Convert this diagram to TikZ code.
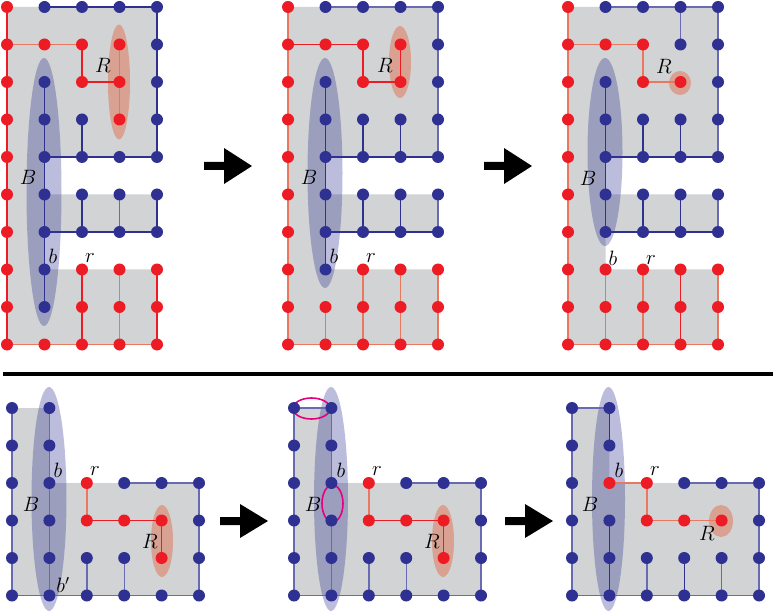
\documentclass[tikz,border=0pt]{standalone}
\definecolor{dred}{RGB}{237,28,36}
\definecolor{dblue}{RGB}{46,49,146}
\definecolor{salm}{RGB}{234,120,95}
\definecolor{lblue}{RGB}{105,107,178}
\definecolor{gfill}{RGB}{209,211,212}
\definecolor{mag}{RGB}{230,0,126}
\definecolor{rellc}{RGB}{223,113,80}
\tikzset{
 rdot/.style={circle,fill=dred,inner sep=0pt,minimum size=12pt},
 bdot/.style={circle,fill=dblue,inner sep=0pt,minimum size=12pt},
 rl/.style={draw=dred,line width=1.2pt},
 sl/.style={draw=salm,line width=1.4pt},
 bl/.style={draw=dblue,line width=1.2pt},
 lbl/.style={draw=lblue,line width=1.4pt},
 region/.style={fill=gfill},
 bell/.style={fill=dblue,fill opacity=0.32},
 rell/.style={fill=rellc,fill opacity=0.5},
 magell/.style={draw=mag,line width=1.6pt},
 lab/.style={font=\fontsize{22}{26}\selectfont,inner sep=0pt},
 bigarrow/.style={fill=black},
}
\begin{document}
\begin{tikzpicture}[x=1pt,y=-1pt]
\useasboundingbox (0,0) rectangle (776,612);
% grid coordinates
\foreach \p/\xo in {A/7,B/288,C/568}{
  \foreach \c in {0,...,4}{
    \foreach \r in {0,...,9}{
      \coordinate (\p-\c-\r) at ({\xo+37.5*\c},{7+37.5*\r});
    }
  }
}
\foreach \p/\xo in {D/12,E/294,F/572}{
  \foreach \c in {0,...,5}{
    \foreach \r in {0,...,5}{
      \coordinate (\p-\c-\r) at ({\xo+37.4*\c},{408+37.5*\r});
    }
  }
}
% gray regions
\foreach \p in {A,B,C}{
  \fill[region] (\p-0-0) -- (\p-4-0) -- (\p-4-4) -- (\p-1-4) -- (\p-1-5) -- (\p-4-5) -- (\p-4-6) -- (\p-1-6) -- (\p-1-7) -- (\p-4-7) -- (\p-4-9) -- (\p-0-9) -- cycle;
}
\foreach \p in {D,E,F}{
  \fill[region] (\p-0-0) -- (\p-1-0) -- (\p-1-2) -- (\p-5-2) -- (\p-5-5) -- (\p-0-5) -- cycle;
}
% ellipses
\fill[bell] (44,192) ellipse [x radius=17.5pt, y radius=134pt];
\fill[rell] (119,82) ellipse [x radius=11pt, y radius=57.5pt];
\fill[bell] (325,173) ellipse [x radius=17.5pt, y radius=115pt];
\fill[rell] (400,62) ellipse [x radius=11pt, y radius=36pt];
\fill[bell] (605,152) ellipse [x radius=17.5pt, y radius=94pt];
\fill[rell] (680,83) ellipse [x radius=11pt, y radius=12pt];
\fill[bell] (49,499) ellipse [x radius=17.5pt, y radius=112pt];
\fill[rell] (162,541) ellipse [x radius=11pt, y radius=36pt];
\fill[bell] (331,499) ellipse [x radius=17pt, y radius=112pt];
\fill[rell] (443,541) ellipse [x radius=11pt, y radius=36pt];
\fill[bell] (608.5,499) ellipse [x radius=16.5pt, y radius=112pt];
\fill[rell] (721,521) ellipse [x radius=12pt, y radius=16pt];
% ---------- panel A lines
\draw[rl] (A-0-0) -- (A-0-9);
\draw[sl] (A-0-1) -- (A-1-1) -- (A-2-1);
\draw[rl] (A-2-1) -- (A-2-2) -- (A-3-2);
\draw[sl] (A-3-1) -- (A-3-3);
\draw[sl] (A-0-9) -- (A-4-9);
\draw[rl] (A-2-7) -- (A-2-9);
\draw[sl] (A-3-7) -- (A-3-9);
\draw[rl] (A-4-7) -- (A-4-9);
\draw[bl] (A-1-0) -- (A-4-0) -- (A-4-4);
\draw[bl] (A-1-2) -- (A-1-8);
\draw[bl] (A-2-3) -- (A-2-4);
\draw[bl] (A-1-4) -- (A-4-4);
\draw[bl] (A-2-5) -- (A-2-6);
\draw[lbl] (A-3-5) -- (A-3-6);
\draw[bl] (A-4-5) -- (A-4-6);
\draw[bl] (A-1-6) -- (A-4-6);
% ---------- panel B lines
\draw[sl] (B-0-0) -- (B-0-9);
\draw[rl] (B-0-1) -- (B-2-1) -- (B-2-2) -- (B-3-2) -- (B-3-1);
\draw[sl] (B-0-9) -- (B-4-9);
\draw[sl] (B-1-8) -- (B-1-9);
\draw[sl] (B-2-7) -- (B-2-9);
\draw[sl] (B-3-7) -- (B-3-9);
\draw[sl] (B-4-7) -- (B-4-9);
\draw[lbl] (B-1-0) -- (B-4-0) -- (B-4-4);
\draw[bl] (B-1-2) -- (B-1-7);
\draw[bl] (B-2-3) -- (B-2-4);
\draw[bl] (B-3-3) -- (B-3-4);
\draw[bl] (B-1-4) -- (B-4-4);
\draw[bl] (B-2-5) -- (B-2-6);
\draw[bl] (B-3-5) -- (B-3-6);
\draw[lbl] (B-4-5) -- (B-4-6);
\draw[bl] (B-1-6) -- (B-4-6);
% ---------- panel C lines
\draw[sl] (C-0-0) -- (C-0-9);
\draw[sl] (C-0-1) -- (C-2-1) -- (C-2-2) -- (C-3-2);
\draw[sl] (C-0-9) -- (C-4-9);
\draw[sl] (C-1-7) -- (C-1-9);
\draw[sl] (C-2-7) -- (C-2-9);
\draw[rl] (C-3-7) -- (C-3-9);
\draw[sl] (C-4-7) -- (C-4-9);
\draw[lbl] (C-1-0) -- (C-4-0) -- (C-4-4);
\draw[lbl] (C-3-0) -- (C-3-1);
\draw[bl] (C-1-2) -- (C-1-6);
\draw[bl] (C-2-3) -- (C-2-4);
\draw[bl] (C-3-3) -- (C-3-4);
\draw[bl] (C-1-4) -- (C-4-4);
\draw[bl] (C-2-5) -- (C-2-6);
\draw[bl] (C-3-5) -- (C-3-6);
\draw[lbl] (C-4-5) -- (C-4-6);
\draw[bl] (C-1-6) -- (C-4-6);
% ---------- panel D lines
\draw[lbl] (D-0-0) -- (D-0-5) -- (D-5-5) -- (D-5-2) -- (D-3-2);
\draw[lbl] (D-1-0) -- (D-1-5);
\draw[lbl] (D-2-4) -- (D-2-5);
\draw[lbl] (D-3-4) -- (D-3-5);
\draw[sl] (D-2-2) -- (D-2-3);
\draw[rl] (D-2-3) -- (D-4-3) -- (D-4-4);
% ---------- panel E lines
\draw[lbl] (E-1-0) -- (E-0-0) -- (E-0-5) -- (E-5-5) -- (E-5-2) -- (E-3-2);
\draw[lbl] (E-1-0) -- (E-1-2);
\draw[lbl] (E-1-3) -- (E-1-5);
\draw[lbl] (E-2-4) -- (E-2-5);
\draw[lbl] (E-3-4) -- (E-3-5);
\draw[sl] (E-2-2) -- (E-2-3);
\draw[rl] (E-2-3) -- (E-4-3) -- (E-4-4);
% ---------- panel F lines
\draw[lbl] (F-1-0) -- (F-0-0) -- (F-0-5) -- (F-5-5) -- (F-5-2) -- (F-3-2);
\draw[bl] (F-1-0) -- (F-1-1);
\draw[bl] (F-1-3) -- (F-1-5);
\draw[lbl] (F-2-4) -- (F-2-5);
\draw[bl] (F-3-4) -- (F-3-5);
\draw[lbl] (F-4-4) -- (F-4-5);
\draw[sl] (F-1-2) -- (F-2-2) -- (F-2-3) -- (F-4-3);
% magenta ellipses
\draw[magell] (311.5,408.5) ellipse [x radius=18.5pt, y radius=10.5pt];
\draw[magell] (332.5,503.5) ellipse [x radius=10.5pt, y radius=18.5pt];
% ---------- dots panel A
\foreach \r in {0,...,9}{\node[rdot] (dA-0-\r) at (A-0-\r) {};}
\foreach \c/\r in {1/1,2/1,3/1,2/2,3/2,3/3,2/7,3/7,4/7,2/8,3/8,4/8,1/9,2/9,3/9,4/9}
  {\node[rdot] (dA-\c-\r) at (A-\c-\r) {};}
\foreach \c/\r in {1/0,2/0,3/0,4/0,4/1,1/2,4/2,1/3,2/3,4/3,1/4,2/4,3/4,4/4,1/5,2/5,3/5,4/5,1/6,2/6,3/6,4/6,1/7,1/8}
  {\node[bdot] (dA-\c-\r) at (A-\c-\r) {};}
% ---------- dots panel B
\foreach \r in {0,...,9}{\node[rdot] (dB-0-\r) at (B-0-\r) {};}
\foreach \c/\r in {1/1,2/1,3/1,2/2,3/2,2/7,3/7,4/7,1/8,2/8,3/8,4/8,1/9,2/9,3/9,4/9}
  {\node[rdot] (dB-\c-\r) at (B-\c-\r) {};}
\foreach \c/\r in {1/0,2/0,3/0,4/0,4/1,1/2,4/2,1/3,2/3,3/3,4/3,1/4,2/4,3/4,4/4,1/5,2/5,3/5,4/5,1/6,2/6,3/6,4/6,1/7}
  {\node[bdot] (dB-\c-\r) at (B-\c-\r) {};}
% ---------- dots panel C
\foreach \r in {0,...,9}{\node[rdot] (dC-0-\r) at (C-0-\r) {};}
\foreach \c/\r in {1/1,2/1,2/2,3/2,1/7,2/7,3/7,4/7,1/8,2/8,3/8,4/8,1/9,2/9,3/9,4/9}
  {\node[rdot] (dC-\c-\r) at (C-\c-\r) {};}
\foreach \c/\r in {1/0,2/0,3/0,4/0,3/1,4/1,1/2,4/2,1/3,2/3,3/3,4/3,1/4,2/4,3/4,4/4,1/5,2/5,3/5,4/5,1/6,2/6,3/6,4/6}
  {\node[bdot] (dC-\c-\r) at (C-\c-\r) {};}
% ---------- dots panels D and E
\foreach \p in {D,E}{
  \foreach \c/\r in {2/2,2/3,3/3,4/3,4/4}
    {\node[rdot] (d\p-\c-\r) at (\p-\c-\r) {};}
  \foreach \c/\r in {0/0,0/1,0/2,0/3,0/4,0/5,1/0,1/1,1/2,1/3,1/4,1/5,3/2,4/2,5/2,5/3,2/4,3/4,5/4,2/5,3/5,4/5,5/5}
    {\node[bdot] (d\p-\c-\r) at (\p-\c-\r) {};}
}
% ---------- dots panel F
\foreach \c/\r in {1/2,2/2,2/3,3/3,4/3}
  {\node[rdot] (dF-\c-\r) at (F-\c-\r) {};}
\foreach \c/\r in {0/0,0/1,0/2,0/3,0/4,0/5,1/0,1/1,1/3,1/4,1/5,3/2,4/2,5/2,5/3,2/4,3/4,4/4,5/4,2/5,3/5,4/5,5/5}
  {\node[bdot] (dF-\c-\r) at (F-\c-\r) {};}
% ---------- labels
\node[lab] (lAR) at (103,65) {$R$};
\node[lab] (lAB) at (28,177) {$B$};
\node[lab] (lAb) at (53,256) {$b$};
\node[lab] (lAr) at (90,258) {$r$};
\node[lab] (lBR) at (385,65) {$R$};
\node[lab] (lBB) at (309,177) {$B$};
\node[lab] (lBb) at (334,256) {$b$};
\node[lab] (lBr) at (371,258) {$r$};
\node[lab] (lCR) at (664,66) {$R$};
\node[lab] (lCB) at (588,178) {$B$};
\node[lab] (lCb) at (613,258) {$b$};
\node[lab] (lCr) at (651,260) {$r$};
\node[lab] (lDb) at (58,470) {$b$};
\node[lab] (lDr) at (95,471) {$r$};
\node[lab] (lDB) at (31,504) {$B$};
\node[lab] (lDR) at (150,541) {$R$};
\node[lab] (lDbp) at (63,585) {$b'$};
\node[lab] (lEb) at (341,470) {$b$};
\node[lab] (lEr) at (377,471) {$r$};
\node[lab] (lEB) at (313,504) {$B$};
\node[lab] (lER) at (432,541) {$R$};
\node[lab] (lFb) at (619,470) {$b$};
\node[lab] (lFr) at (655,471) {$r$};
\node[lab] (lFB) at (590,504) {$B$};
\node[lab] (lFR) at (707,533) {$R$};
% ---------- arrows and divider
\fill[bigarrow] (204,162) -- (224,162) -- (224,148) -- (252,166) -- (224,184) -- (224,170) -- (204,170) -- cycle;
\fill[bigarrow] (484,162) -- (504,162) -- (504,148) -- (532,166) -- (504,184) -- (504,170) -- (484,170) -- cycle;
\fill[bigarrow] (220,517) -- (240,517) -- (240,504) -- (268,521) -- (240,538) -- (240,525) -- (220,525) -- cycle;
\fill[bigarrow] (505,517) -- (525,517) -- (525,504) -- (553,521) -- (525,538) -- (525,525) -- (505,525) -- cycle;
\draw[line width=4pt] (3,374) -- (773,374);
\end{tikzpicture}
\end{document}
